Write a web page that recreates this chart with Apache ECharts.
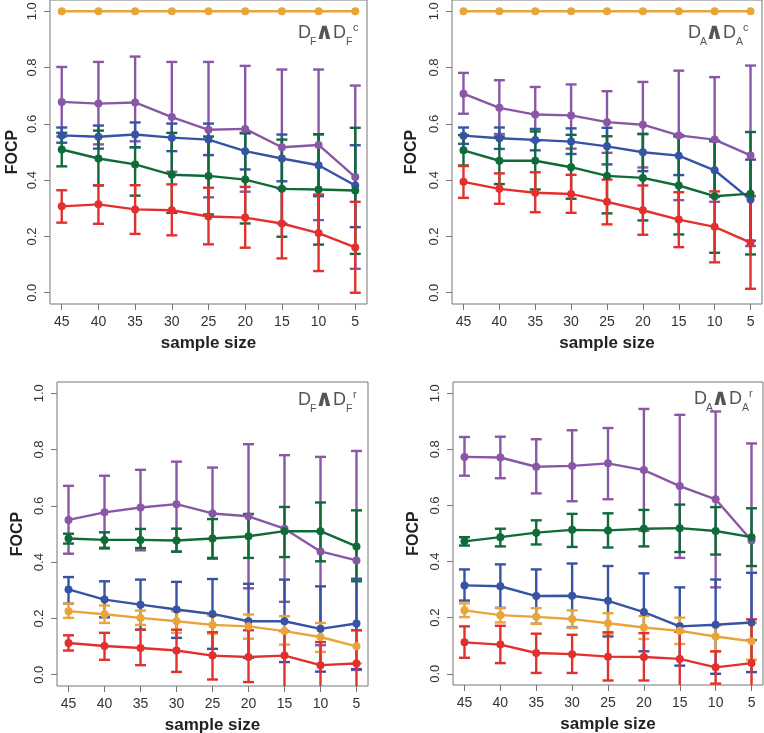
<!DOCTYPE html>
<html><head><meta charset="utf-8">
<script src="https://cdn.jsdelivr.net/npm/echarts@6/dist/echarts.min.js"></script>
<style>html,body{margin:0;padding:0;background:#fff}#c{width:764px;height:733px}</style>
</head><body><div id="c"></div>
<script>
// ---------- data ----------
const sampleSizes = [45, 40, 35, 30, 25, 20, 15, 10, 5];
const yTicks = [0, 0.2, 0.4, 0.6, 0.8, 1.0];

// Panel 1: D_F ∧ D_F^c
const p1OrangeMean = [1, 1, 1, 1, 1, 1, 1, 1, 1];
const p1PurpleMean = [0.678, 0.672, 0.676, 0.624, 0.579, 0.582, 0.517, 0.525, 0.411];
const p1PurpleHi   = [0.802, 0.820, 0.839, 0.820, 0.820, 0.806, 0.793, 0.793, 0.736];
const p1PurpleLo   = [0.555, 0.527, 0.538, 0.430, 0.339, 0.359, 0.246, 0.258, 0.085];
const p1BlueMean   = [0.559, 0.554, 0.562, 0.551, 0.544, 0.503, 0.477, 0.453, 0.381];
const p1BlueHi     = [0.587, 0.594, 0.605, 0.601, 0.601, 0.566, 0.562, 0.563, 0.524];
const p1BlueLo     = [0.533, 0.512, 0.517, 0.503, 0.489, 0.438, 0.396, 0.343, 0.233];
const p1GreenMean  = [0.509, 0.477, 0.456, 0.419, 0.415, 0.402, 0.369, 0.367, 0.363];
const p1GreenHi    = [0.568, 0.576, 0.517, 0.568, 0.555, 0.568, 0.544, 0.563, 0.586];
const p1GreenLo    = [0.449, 0.381, 0.345, 0.284, 0.278, 0.246, 0.199, 0.171, 0.138];
const p1RedMean    = [0.307, 0.314, 0.296, 0.293, 0.271, 0.267, 0.246, 0.212, 0.161];
const p1RedHi      = [0.364, 0.382, 0.382, 0.385, 0.373, 0.376, 0.370, 0.349, 0.323];
const p1RedLo      = [0.249, 0.245, 0.209, 0.204, 0.172, 0.160, 0.122, 0.077, 0.000];

// Panel 2: D_A ∧ D_A^c
const p2OrangeMean = [1, 1, 1, 1, 1, 1, 1, 1, 1];
const p2PurpleMean = [0.707, 0.657, 0.633, 0.630, 0.606, 0.597, 0.559, 0.544, 0.488];
const p2PurpleHi   = [0.781, 0.755, 0.731, 0.740, 0.716, 0.749, 0.789, 0.766, 0.807];
const p2PurpleLo   = [0.636, 0.564, 0.540, 0.512, 0.497, 0.445, 0.329, 0.323, 0.166];
const p2BlueMean   = [0.558, 0.549, 0.543, 0.537, 0.520, 0.499, 0.487, 0.435, 0.331];
const p2BlueHi     = [0.587, 0.587, 0.582, 0.584, 0.586, 0.564, 0.560, 0.538, 0.473];
const p2BlueLo     = [0.529, 0.511, 0.506, 0.493, 0.456, 0.432, 0.418, 0.341, 0.185];
const p2GreenMean  = [0.506, 0.469, 0.469, 0.446, 0.415, 0.408, 0.381, 0.343, 0.352];
const p2GreenHi    = [0.560, 0.555, 0.573, 0.561, 0.556, 0.564, 0.555, 0.540, 0.571];
const p2GreenLo    = [0.452, 0.386, 0.367, 0.334, 0.282, 0.257, 0.207, 0.142, 0.136];
const p2RedMean    = [0.394, 0.369, 0.355, 0.351, 0.323, 0.293, 0.260, 0.234, 0.178];
const p2RedHi      = [0.450, 0.424, 0.428, 0.419, 0.402, 0.381, 0.357, 0.360, 0.343];
const p2RedLo      = [0.337, 0.316, 0.286, 0.284, 0.243, 0.206, 0.162, 0.108, 0.014];

// Panel 3: D_F ∧ D_F^r
const p3OrangeMean = [0.226, 0.215, 0.202, 0.190, 0.177, 0.172, 0.155, 0.134, 0.101];
const p3OrangeHi   = [0.253, 0.246, 0.228, 0.226, 0.210, 0.214, 0.208, 0.184, 0.158];
const p3OrangeLo   = [0.202, 0.184, 0.177, 0.149, 0.146, 0.128, 0.107, 0.081, 0.040];
const p3PurpleMean = [0.550, 0.577, 0.594, 0.606, 0.573, 0.563, 0.519, 0.438, 0.406];
const p3PurpleHi   = [0.671, 0.707, 0.728, 0.757, 0.736, 0.819, 0.780, 0.774, 0.795];
const p3PurpleLo   = [0.430, 0.448, 0.442, 0.438, 0.412, 0.307, 0.259, 0.105, 0.017];
const p3BlueMean   = [0.303, 0.267, 0.249, 0.232, 0.216, 0.190, 0.190, 0.163, 0.182];
const p3BlueHi     = [0.347, 0.332, 0.338, 0.330, 0.340, 0.323, 0.338, 0.314, 0.341];
const p3BlueLo     = [0.253, 0.204, 0.160, 0.131, 0.092, 0.060, 0.045, 0.011, 0.020];
const p3GreenMean  = [0.484, 0.479, 0.479, 0.477, 0.484, 0.492, 0.510, 0.510, 0.456];
const p3GreenHi    = [0.501, 0.506, 0.518, 0.519, 0.553, 0.571, 0.596, 0.612, 0.584];
const p3GreenLo    = [0.466, 0.451, 0.450, 0.437, 0.415, 0.415, 0.418, 0.403, 0.332];
const p3RedMean    = [0.113, 0.102, 0.095, 0.086, 0.068, 0.063, 0.068, 0.034, 0.040];
const p3RedHi      = [0.140, 0.149, 0.160, 0.160, 0.151, 0.158, 0.155, 0.116, 0.158];
const p3RedLo      = [0.086, 0.053, 0.034, 0.010, -0.017, -0.026, -0.070, -0.070, -0.070];

// Panel 4: D_A ∧ D_A^r
const p4OrangeMean = [0.226, 0.209, 0.203, 0.195, 0.180, 0.165, 0.153, 0.133, 0.116];
const p4OrangeHi   = [0.251, 0.234, 0.234, 0.226, 0.216, 0.206, 0.200, 0.172, 0.181];
const p4OrangeLo   = [0.202, 0.183, 0.178, 0.163, 0.143, 0.124, 0.106, 0.080, 0.050];
const p4PurpleMean = [0.773, 0.771, 0.738, 0.741, 0.750, 0.726, 0.669, 0.622, 0.475];
const p4PurpleHi   = [0.844, 0.845, 0.836, 0.868, 0.876, 0.944, 0.923, 0.935, 0.821];
const p4PurpleLo   = [0.706, 0.697, 0.643, 0.615, 0.622, 0.510, 0.413, 0.308, 0.120];
const p4BlueMean   = [0.315, 0.312, 0.277, 0.278, 0.260, 0.220, 0.169, 0.175, 0.183];
const p4BlueHi     = [0.372, 0.390, 0.372, 0.393, 0.384, 0.358, 0.308, 0.336, 0.360];
const p4BlueLo     = [0.261, 0.235, 0.178, 0.165, 0.133, 0.080, 0.029, 0.000, 0.006];
const p4GreenMean  = [0.472, 0.487, 0.503, 0.513, 0.511, 0.517, 0.519, 0.509, 0.487];
const p4GreenHi    = [0.487, 0.517, 0.547, 0.570, 0.572, 0.584, 0.603, 0.594, 0.590];
const p4GreenLo    = [0.457, 0.454, 0.461, 0.452, 0.450, 0.454, 0.434, 0.425, 0.384];
const p4RedMean    = [0.112, 0.104, 0.074, 0.070, 0.061, 0.060, 0.053, 0.023, 0.038];
const p4RedHi      = [0.169, 0.171, 0.143, 0.139, 0.148, 0.145, 0.150, 0.080, 0.194];
const p4RedLo      = [0.057, 0.038, 0.003, 0.003, -0.024, -0.024, -0.060, -0.035, -0.060];

// ---------- styling ----------
const COLORS = {orange: '#E9A43A', purple: '#8A56A6', blue: '#3753A4', green: '#0F6B38', red: '#E3302E'};
const FONT = 'Liberation Sans, Arial, Helvetica, sans-serif';

const panels = [
  {grid: {left: 50, right: 397, top: 0, bottom: 429}, nameGap: 29.5, sub: 'F', sup: 'c', ann: [298, 33],
   series: [
    ['orange', p1OrangeMean, null, null],
    ['purple', p1PurpleMean, p1PurpleHi, p1PurpleLo],
    ['blue', p1BlueMean, p1BlueHi, p1BlueLo],
    ['green', p1GreenMean, p1GreenHi, p1GreenLo],
    ['red', p1RedMean, p1RedHi, p1RedLo]]},
  {grid: {left: 452, right: 2, top: 0, bottom: 429}, nameGap: 32, sub: 'A', sup: 'c', ann: [688, 33],
   series: [
    ['orange', p2OrangeMean, null, null],
    ['purple', p2PurpleMean, p2PurpleHi, p2PurpleLo],
    ['blue', p2BlueMean, p2BlueHi, p2BlueLo],
    ['green', p2GreenMean, p2GreenHi, p2GreenLo],
    ['red', p2RedMean, p2RedHi, p2RedLo]]},
  {grid: {left: 57, right: 396, top: 382, bottom: 47}, nameGap: 31, sub: 'F', sup: 'r', ann: [298, 400],
   series: [
    ['purple', p3PurpleMean, p3PurpleHi, p3PurpleLo],
    ['green', p3GreenMean, p3GreenHi, p3GreenLo],
    ['blue', p3BlueMean, p3BlueHi, p3BlueLo],
    ['orange', p3OrangeMean, p3OrangeHi, p3OrangeLo],
    ['red', p3RedMean, p3RedHi, p3RedLo]]},
  {grid: {left: 453, right: 1, top: 382, bottom: 48}, nameGap: 31.5, sub: 'A', sup: 'r', ann: [694, 399],
   series: [
    ['purple', p4PurpleMean, p4PurpleHi, p4PurpleLo],
    ['green', p4GreenMean, p4GreenHi, p4GreenLo],
    ['blue', p4BlueMean, p4BlueHi, p4BlueLo],
    ['orange', p4OrangeMean, p4OrangeHi, p4OrangeLo],
    ['red', p4RedMean, p4RedHi, p4RedLo]]}
];

function errRender(color) {
  return function (params, api) {
    const x = api.value(0), lo = api.value(1), hi = api.value(2);
    const pHi = api.coord([x, hi]), pLo = api.coord([x, lo]);
    const cs = params.coordSys;
    const yTop = cs.y, yBot = cs.y + cs.height;
    const hw = 5.5;
    const st = {stroke: color, lineWidth: 2.4};
    const ch = [{type: 'line', shape: {x1: pHi[0], y1: Math.max(pHi[1], yTop), x2: pHi[0], y2: Math.min(pLo[1], yBot)}, style: st}];
    if (pHi[1] >= yTop && pHi[1] <= yBot) ch.push({type: 'line', shape: {x1: pHi[0] - hw, y1: pHi[1], x2: pHi[0] + hw, y2: pHi[1]}, style: st});
    if (pLo[1] <= yBot && pLo[1] >= yTop) ch.push({type: 'line', shape: {x1: pLo[0] - hw, y1: pLo[1], x2: pLo[0] + hw, y2: pLo[1]}, style: st});
    return {type: 'group', children: ch};
  };
}

const grid = [], xAxis = [], yAxis = [], series = [], graphic = [];
panels.forEach((p, i) => {
  grid.push(Object.assign({show: true, borderColor: '#777', borderWidth: 1, backgroundColor: 'transparent',
    containLabel: false, outerBoundsMode: 'none'}, p.grid));
  xAxis.push({
    type: 'value', gridIndex: i, inverse: true, min: 3.4, max: 46.6,
    name: 'sample size', nameLocation: 'middle', nameGap: 31, nameMoveOverlap: false,
    nameTextStyle: {fontFamily: FONT, fontWeight: 'bold', fontSize: 17, color: '#222'},
    axisLine: {show: false, onZero: false}, splitLine: {show: false},
    axisTick: {show: true, inside: false, length: 6, customValues: sampleSizes, lineStyle: {color: '#777'}},
    axisLabel: {show: true, customValues: sampleSizes, margin: 11.5, fontFamily: FONT, fontSize: 14, color: '#333'}
  });
  yAxis.push({
    type: 'value', gridIndex: i, min: -0.04, max: 1.04,
    name: 'FOCP', nameLocation: 'middle', nameGap: p.nameGap, nameRotate: 90, nameMoveOverlap: false,
    nameTextStyle: {fontFamily: FONT, fontWeight: 'bold', fontSize: 16, color: '#222'},
    axisLine: {show: false, onZero: false}, splitLine: {show: false},
    axisTick: {show: true, inside: false, length: 6, customValues: yTicks, lineStyle: {color: '#777'}},
    axisLabel: {show: true, customValues: yTicks, rotate: 90, margin: 11, fontFamily: FONT, fontSize: 13, color: '#333',
      formatter: v => v.toFixed(1)}
  });
  p.series.forEach(([cname, mean, hi, lo]) => {
    const color = COLORS[cname];
    if (hi && lo) {
      series.push({
        type: 'custom', xAxisIndex: i, yAxisIndex: i, clip: true, silent: true,
        renderItem: errRender(color),
        data: sampleSizes.map((s, k) => [s, lo[k], hi[k]]), z: 2
      });
    }
    series.push({
      type: 'line', xAxisIndex: i, yAxisIndex: i, symbol: 'circle', symbolSize: 8,
      lineStyle: {color: color, width: 2.4}, itemStyle: {color: color},
      data: sampleSizes.map((s, k) => [s, mean[k]]), z: 3, silent: true
    });
  });
  // annotation
  const [ax, ay] = p.ann;
  const base = {fontFamily: FONT, fill: '#555', verticalAlign: 'middle', align: 'left'};
  graphic.push({
    type: 'group', x: ax, y: ay, silent: true,
    children: [
      {type: 'text', x: 0, y: 0, style: Object.assign({}, base, {text: 'D', fontSize: 18})},
      {type: 'text', x: 12, y: 9, style: Object.assign({}, base, {text: p.sub, fontSize: 10.5})},
      {type: 'text', x: 17, y: 0, style: Object.assign({}, base, {text: '∧', fontSize: 23, fontWeight: 'bold', fontFamily: 'DejaVu Sans'})},
      {type: 'text', x: 35, y: 0, style: Object.assign({}, base, {text: 'D', fontSize: 18})},
      {type: 'text', x: 48, y: 9, style: Object.assign({}, base, {text: p.sub, fontSize: 10.5})},
      {type: 'text', x: 55, y: -5, style: Object.assign({}, base, {text: p.sup, fontSize: 11})}
    ]
  });
});

const chart = echarts.init(document.getElementById('c'), null, {renderer: 'canvas'});
chart.setOption({backgroundColor: '#fff', animation: false, grid, xAxis, yAxis, series, graphic});
</script>
</body></html>
